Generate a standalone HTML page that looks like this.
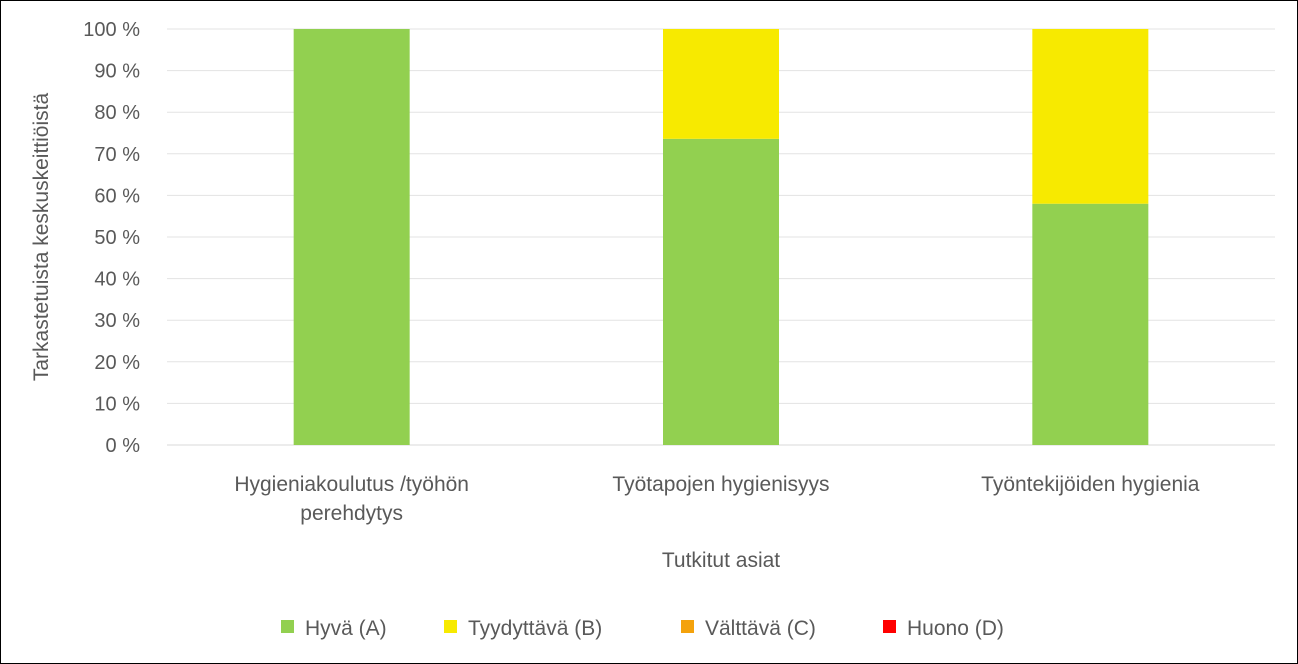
<!DOCTYPE html>
<html><head><meta charset="utf-8"><style>
body{margin:0;background:#fff}
svg{display:block;font-family:"Liberation Sans",sans-serif}
</style></head><body>
<svg id="chart" width="1298" height="664">
<rect x="0.5" y="0.5" width="1297" height="663" fill="#fff" stroke="#000" stroke-width="1"/>
<g id="grid"></g><g id="bars"></g><g id="yticks"></g><g id="xlabels"></g>
<text x="48" y="237" transform="rotate(-90 48 237)" text-anchor="middle" font-size="21" fill="#595959">Tarkastetuista keskuskeittiöistä</text>
<text x="721" y="567" text-anchor="middle" font-size="21" fill="#595959">Tutkitut asiat</text>
<g id="legend"></g>
</svg>
<script>
const categories=[["Hygieniakoulutus /työhön","perehdytys"],["Työtapojen hygienisyys"],["Työntekijöiden hygienia"]];
const seriesNames=["Hyvä (A)","Tyydyttävä (B)","Välttävä (C)","Huono (D)"];
const hyva=[100,73.6,58];
const tyydyttava=[0,26.4,42];
const valttava=[0,0,0];
const huono=[0,0,0];
const yTicks=[0,10,20,30,40,50,60,70,80,90,100];
const colors=["#92d050","#f7ea00","#f4a20c","#ff0000"];
const NS="http://www.w3.org/2000/svg";
const L=167,R=1275,T=29,B=445;
const y=v=>B-(B-T)*v/100;
const bw=(R-L)/categories.length;
const xc=i=>L+bw*(i+0.5);
function mk(tag,attrs,parent){const e=document.createElementNS(NS,tag);for(const k in attrs)e.setAttribute(k,attrs[k]);parent.appendChild(e);return e;}
const g=document.getElementById("grid"),yt=document.getElementById("yticks");
yTicks.forEach(v=>{
 const l=mk("line",{x1:L,x2:R,y1:y(v),y2:y(v),stroke:v===0?"#d9d9d9":"#e3e3e3","stroke-width":1},g);
 
 
 const t=mk("text",{x:140,y:y(v)+7,"text-anchor":"end","font-size":20,fill:"#595959"},yt);
 t.textContent=v+" %";
 
 
});
const series=[hyva,tyydyttava,valttava,huono];
const bg=document.getElementById("bars");
categories.forEach((c,i)=>{
 let acc=0;
 series.forEach((s,k)=>{
  const v=s[i]; if(v<=0)return;
  const r=mk("rect",{x:xc(i)-58,width:116,y:y(acc+v),height:y(acc)-y(acc+v),fill:colors[k]},bg);
  
  
  acc+=v;
 });
 const t=mk("text",{x:xc(i),y:491,"text-anchor":"middle","font-size":21,fill:"#595959"},document.getElementById("xlabels"));
 
 
 c.forEach((line,j)=>{const ts=mk("tspan",{x:xc(i),dy:j?29:0},t);ts.textContent=line;});
});
const lg=document.getElementById("legend");
const lx=[281,444,681,883];
seriesNames.forEach((n,k)=>{
 const s=mk("rect",{x:lx[k],y:620,width:13,height:13,fill:colors[k]},lg);
 
 
 const t=mk("text",{x:lx[k]+24,y:635,"font-size":21,fill:"#595959"},lg);
 t.textContent=n;
 
 
});
</script>
</body></html>
